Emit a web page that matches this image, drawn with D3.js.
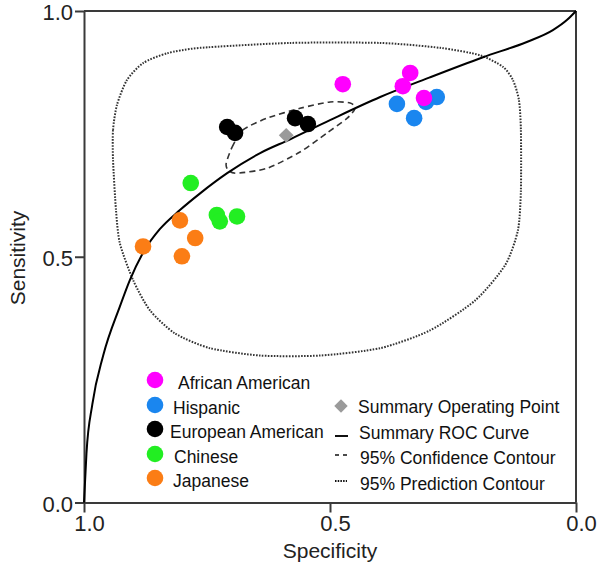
<!DOCTYPE html>
<html><head><meta charset="utf-8">
<script src="https://cdn.jsdelivr.net/npm/d3@7"></script>
<style>body{margin:0;background:#fff;} text{font-family:"Liberation Sans",Arial,sans-serif;}</style>
</head><body><svg id="c" width="604" height="571"></svg>
<script>
// ---- data (specificity, sensitivity) ----
const africanAmerican = [[0.474,0.851],[0.337,0.874],[0.352,0.847],[0.309,0.823]];
const hispanic = [[0.364,0.811],[0.329,0.782],[0.283,0.825],[0.305,0.815]];
const europeanAmerican = [[0.709,0.764],[0.693,0.752],[0.571,0.782],[0.545,0.770]];
const chinese = [[0.783,0.650],[0.730,0.585],[0.724,0.572],[0.689,0.582]];
const japanese = [[0.805,0.574],[0.880,0.521],[0.774,0.538],[0.801,0.501]];
const summaryPoint = [0.589,0.747];
const srocCurve = [[1.0,0.0],[0.995,0.100],[0.983,0.200],[0.961,0.299],[0.927,0.399],[0.907,0.452],[0.876,0.515],[0.846,0.556],[0.805,0.595],[0.764,0.629],[0.709,0.670],[0.642,0.711],[0.581,0.739],[0.500,0.778],[0.398,0.825],[0.297,0.865],[0.189,0.906],[0.100,0.937],[0.047,0.961],[0.018,0.982],[0.0,1.0]];
const confidenceContour = [[0.711,0.690],[0.699,0.723],[0.677,0.758],[0.628,0.782],[0.561,0.802],[0.500,0.815],[0.459,0.813],[0.449,0.802],[0.465,0.782],[0.506,0.752],[0.561,0.713],[0.628,0.680],[0.689,0.670],[0.707,0.676]];
const predictionContour = [[0.941,0.697],[0.941,0.758],[0.933,0.809],[0.913,0.859],[0.880,0.894],[0.831,0.914],[0.764,0.925],[0.581,0.935],[0.398,0.935],[0.276,0.925],[0.195,0.910],[0.148,0.886],[0.128,0.859],[0.116,0.819],[0.112,0.758],[0.112,0.635],[0.118,0.554],[0.144,0.483],[0.205,0.411],[0.297,0.350],[0.398,0.314],[0.520,0.299],[0.642,0.299],[0.744,0.314],[0.815,0.344],[0.866,0.391],[0.900,0.452],[0.927,0.527],[0.935,0.595]];
const groupNames = ["African American","Hispanic","European American","Chinese","Japanese"];
const groupColors = ["#ff00ff","#1a86ef","#000000","#22ee22","#fb7d15"];
const xTicks = [1.0,0.5,0.0];
const yTicks = [0.0,0.5,1.0];
const legendRight = ["Summary Operating Point","Summary ROC Curve","95% Confidence Contour","95% Prediction Contour"];

const svg = d3.select("#c");
const L=84,R=576,T=11,B=502.5;
const x = d3.scaleLinear().domain([1,0]).range([L,R]);
const y = d3.scaleLinear().domain([0,1]).range([B,T]);
const axisCol="#3a3a3a";

// frame
svg.append("line").attr("x1",L).attr("x2",R).attr("y1",T).attr("y2",T).attr("stroke",axisCol).attr("stroke-width",2);
svg.append("line").attr("x1",R).attr("x2",R).attr("y1",T).attr("y2",B).attr("stroke",axisCol).attr("stroke-width",2);

const xa = svg.append("g").attr("transform",`translate(0,${B})`)
  .call(d3.axisBottom(x).tickValues(xTicks).tickFormat(d3.format(".1f")).tickSizeInner(10).tickSizeOuter(0).tickPadding(6));
const ya = svg.append("g").attr("transform",`translate(${L},0)`)
  .call(d3.axisLeft(y).tickValues(yTicks).tickFormat(d3.format(".1f")).tickSizeInner(9).tickSizeOuter(0).tickPadding(2));
[xa,ya].forEach(a=>{a.select(".domain").attr("stroke",axisCol).attr("stroke-width",2);
  a.selectAll(".tick line").attr("stroke",axisCol).attr("stroke-width",2);
  a.selectAll(".tick text").attr("font-size",22).attr("fill","#222").attr("font-family","Liberation Sans, Arial, sans-serif");});
xa.selectAll(".tick text").attr("dx",5).attr("dy","0.55em");
ya.selectAll(".tick text").attr("dy","0.4em");

svg.append("text").attr("x",330).attr("y",558).attr("text-anchor","middle").attr("font-size",21).attr("fill","#222").text("Specificity");
svg.append("text").attr("transform","translate(25,258) rotate(-90)").attr("text-anchor","middle").attr("font-size",21).attr("fill","#222").text("Sensitivity");

// contours
const closed = d3.line().x(d=>x(d[0])).y(d=>y(d[1])).curve(d3.curveCardinalClosed.tension(0.3));
svg.append("path").attr("d",closed(predictionContour)).attr("fill","none").attr("stroke","#333").attr("stroke-width",2).attr("stroke-dasharray","1.6,1.4");
svg.append("path").attr("d",closed(confidenceContour)).attr("fill","none").attr("stroke","#333").attr("stroke-width",1.6).attr("stroke-dasharray","6,4");

// summary ROC curve
const open = d3.line().x(d=>x(d[0])).y(d=>y(d[1])).curve(d3.curveMonotoneX);
svg.append("path").attr("d",open(srocCurve)).attr("fill","none").attr("stroke","#000").attr("stroke-width",2);

// summary point
svg.append("path").attr("d",d3.symbol(d3.symbolSquare,110)()).attr("transform",`translate(${x(summaryPoint[0])},${y(summaryPoint[1])}) rotate(45)`).attr("fill","#9a9a9a");

// study points
const groups=[africanAmerican,hispanic,europeanAmerican,chinese,japanese];
const order=[1,0,2,3,4];
order.forEach(i=>{
  svg.append("g").selectAll("circle").data(groups[i]).join("circle")
    .attr("cx",d=>x(d[0])).attr("cy",d=>y(d[1])).attr("r",8.3).attr("fill",groupColors[i]);
});

// legend left
const lgY=[380,405,429,454,478];
const lgTx=[178,173,170,174,173];
groupNames.forEach((n,i)=>{
  svg.append("circle").attr("cx",155).attr("cy",lgY[i]).attr("r",8.3).attr("fill",groupColors[i]);
  svg.append("text").attr("x",lgTx[i]).attr("y",lgY[i]+3).attr("dy","0.35em").attr("font-size",17.5).attr("fill","#111").text(n);
});
// legend right
const rY=[406,432,457,483];
svg.append("path").attr("d",d3.symbol(d3.symbolSquare,90)()).attr("transform",`translate(341,${rY[0]}) rotate(45)`).attr("fill","#9a9a9a");
svg.append("line").attr("x1",335).attr("x2",348).attr("y1",rY[1]+4).attr("y2",rY[1]+4).attr("stroke","#111").attr("stroke-width",2);
svg.append("line").attr("x1",335).attr("x2",348).attr("y1",rY[2]-2).attr("y2",rY[2]-2).attr("stroke","#111").attr("stroke-width",1.5).attr("stroke-dasharray","4,4");
svg.append("line").attr("x1",335).attr("x2",347).attr("y1",rY[3]-2).attr("y2",rY[3]-2).attr("stroke","#111").attr("stroke-width",1.8).attr("stroke-dasharray","1.5,1.2");
const rTx=[358,359,360,360];
legendRight.forEach((n,i)=>{
  svg.append("text").attr("x",rTx[i]).attr("y",rY[i]+1).attr("dy","0.35em").attr("font-size",17.5).attr("fill","#111").text(n);
});
</script></body></html>
